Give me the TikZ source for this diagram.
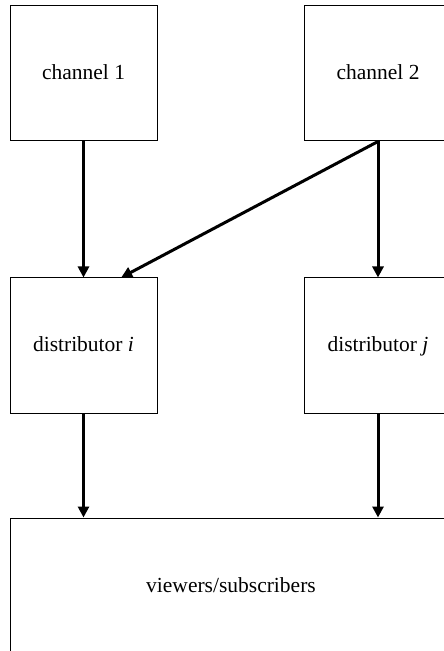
\documentclass[tikz,border=0pt]{standalone}
\usepackage{fontspec}
\setmainfont{Liberation Serif}
\usetikzlibrary{positioning, arrows.meta}
\tikzstyle{process} = [rectangle, minimum width=73.5pt, minimum height=67.5pt, text centered, draw=black, line width=0.5pt, text height=1.5ex, text depth=.25ex, font=\fontsize{10.75}{13}\selectfont]
\tikzstyle{arrow} = [line width=1.5pt,->,>={Triangle[length=5.5pt,width=5.5pt]}]

\begin{document}
\begin{tikzpicture}
        \useasboundingbox (0,0) rectangle (221.5pt,-325.5pt);
        \node (ch1) [process] at (41.75pt,-36.75pt) {channel 1};
        \node (ch2) [process, right=73.25pt of ch1] {channel 2};
        \node (disti) [process, below=68pt of ch1] {distributor \textit{i}};
        \node (distj) [process, below=68pt of ch2] {distributor \textit{j}};
        \node (viewers) [process, minimum width=221pt, minimum height=69pt,
            below=52pt of disti.south west, anchor=north west]
            {viewers/subscribers};

        \draw [arrow] (ch1) -- (disti);
        \draw [arrow] (ch2) -- (distj);
        \draw [arrow] (ch2.south) -- (disti.61);
        \draw [arrow] (disti) -- (disti |- viewers.north);
        \draw [arrow] (distj) -- (distj |- viewers.north);
    \end{tikzpicture}
\end{document}
